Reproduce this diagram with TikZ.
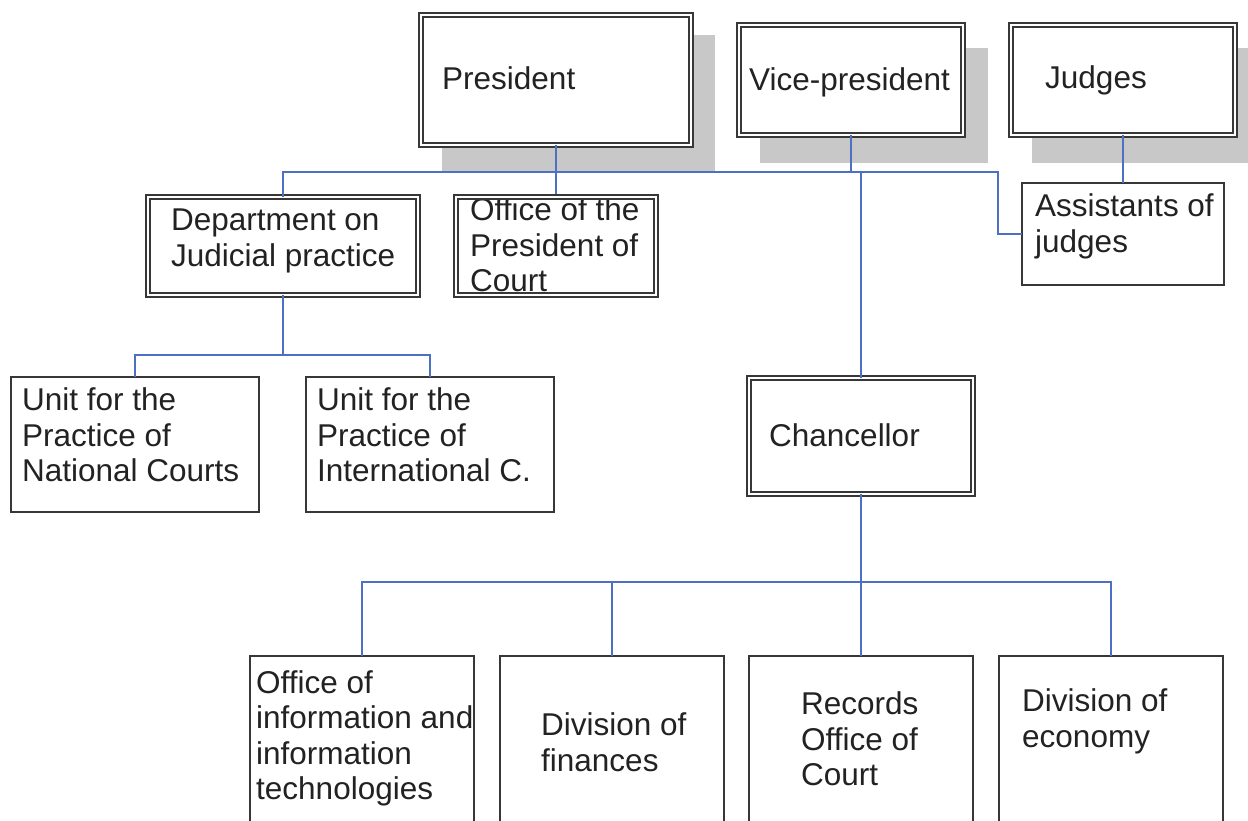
\documentclass[tikz,border=0pt]{standalone}
\usepackage{fontspec}
\setmainfont{Liberation Sans}
\begin{document}
\begin{tikzpicture}[x=1pt,y=-1pt,
  boxline/.style={draw={rgb,255:red,55;green,55;blue,55}},
  dbox/.style={boxline, fill=white, line width=2pt, double=white, double distance=1.6pt, inner sep=0pt, outer sep=0pt},
  sbox/.style={boxline, fill=white, line width=1.4pt, inner sep=0pt, outer sep=0pt},
  dframe/.style={boxline, line width=2pt, double=white, double distance=1.6pt},
  shad/.style={fill={rgb,255:red,200;green,200;blue,200}, draw=none},
  conn/.style={draw={rgb,255:red,78;green,112;blue,195}, line width=1.6pt},
  txt/.style={anchor=west, inner sep=0pt, align=left, text={rgb,255:red,34;green,34;blue,34},
    font=\fontsize{31.5}{35.5}\selectfont}
]
\clip (0,0) rectangle (1248,821);
\fill[white] (0,0) rectangle (1248,821);

% shadows
\path[shad] (442,35) rectangle (715,171);
\path[shad] (760,48) rectangle (988,163);
\path[shad] (1032,48) rectangle (1260,163);

% boxes
\node[dbox, minimum width=270pt, minimum height=130pt] (pres) at (556,80) {};
\node[dbox, minimum width=224pt, minimum height=110pt] (vp) at (851,80) {};
\node[dbox, minimum width=224pt, minimum height=110pt] (judges) at (1123,80) {};
\node[dbox, minimum width=270pt, minimum height=98pt] (dept) at (283,246) {};
\node[dbox, minimum width=200pt, minimum height=98pt] (office) at (556,246) {};
\node[sbox, minimum width=202pt, minimum height=102pt] (assist) at (1123,234) {};
\node[sbox, minimum width=248pt, minimum height=135pt] (unitA) at (135,444.5) {};
\node[sbox, minimum width=248pt, minimum height=135pt] (unitB) at (430,444.5) {};
\node[dbox, minimum width=224pt, minimum height=116pt] (chanc) at (861,436) {};
\node[sbox, minimum width=224pt, minimum height=184pt] (bA) at (362,748) {};
\node[sbox, minimum width=224pt, minimum height=184pt] (bB) at (612,748) {};
\node[sbox, minimum width=224pt, minimum height=184pt] (bC) at (861,748) {};
\node[sbox, minimum width=224pt, minimum height=184pt] (bD) at (1111,748) {};

% connectors
\coordinate (busR) at (998,172);
\coordinate (busK) at (998,234);
\draw[conn] (dept.north) -- (dept.north |- busR) -- (busR) -- (busK) -- (assist.west);
\draw[conn] (pres.south) -- (office.north);
\draw[conn] (vp.south) -- (vp.south |- busR);
\draw[conn] (chanc.north |- busR) -- (chanc.north);
\draw[conn] (judges.south) -- (assist.north);
\coordinate (ubus) at (283,355);
\draw[conn] (dept.south) -- (ubus);
\draw[conn] (unitA.north) -- (unitA.north |- ubus) -- (unitB.north |- ubus) -- (unitB.north);
\coordinate (bbus) at (861,582);
\draw[conn] (chanc.south) -- (bbus);
\draw[conn] (bA.north) -- (bA.north |- bbus) -- (bD.north |- bbus) -- (bD.north);
\draw[conn] (bB.north) -- (bB.north |- bbus);
\draw[conn] (bC.north) -- (bC.north |- bbus);

% texts
\node[txt] (tpres) at (442,78) {President};
\node[txt] (tvp) at (749,82) {Vice-president};
\node[txt] (tjud) at (1045,80) {Judges};
\node[txt] (tdept) at (171,241) {Department on\\Judicial practice};
\node[txt] (toff) at (470,245) {Office of the\\President of\\Court};
\node[txt] (tass) at (1035,226.5) {Assistants of\\judges};
\node[txt] (tuA) at (22,435) {Unit for the\\Practice of\\National Courts};
\node[txt] (tuB) at (317,435) {Unit for the\\Practice of\\International C.};
\node[txt] (tch) at (769,435) {Chancellor};
\node[txt] (tbA) at (256,738.5) {Office of\\information and\\information\\technologies};
\node[txt] (tbB) at (541,742) {Division of\\finances};
\node[txt] (tbC) at (801,739) {Records\\Office of\\Court};
\node[txt] (tbD) at (1022,721.5) {Division of\\economy};

% border of the office box drawn over its overflowing text
\draw[dframe] (office.north west) rectangle (office.south east);
\end{tikzpicture}
\end{document}
